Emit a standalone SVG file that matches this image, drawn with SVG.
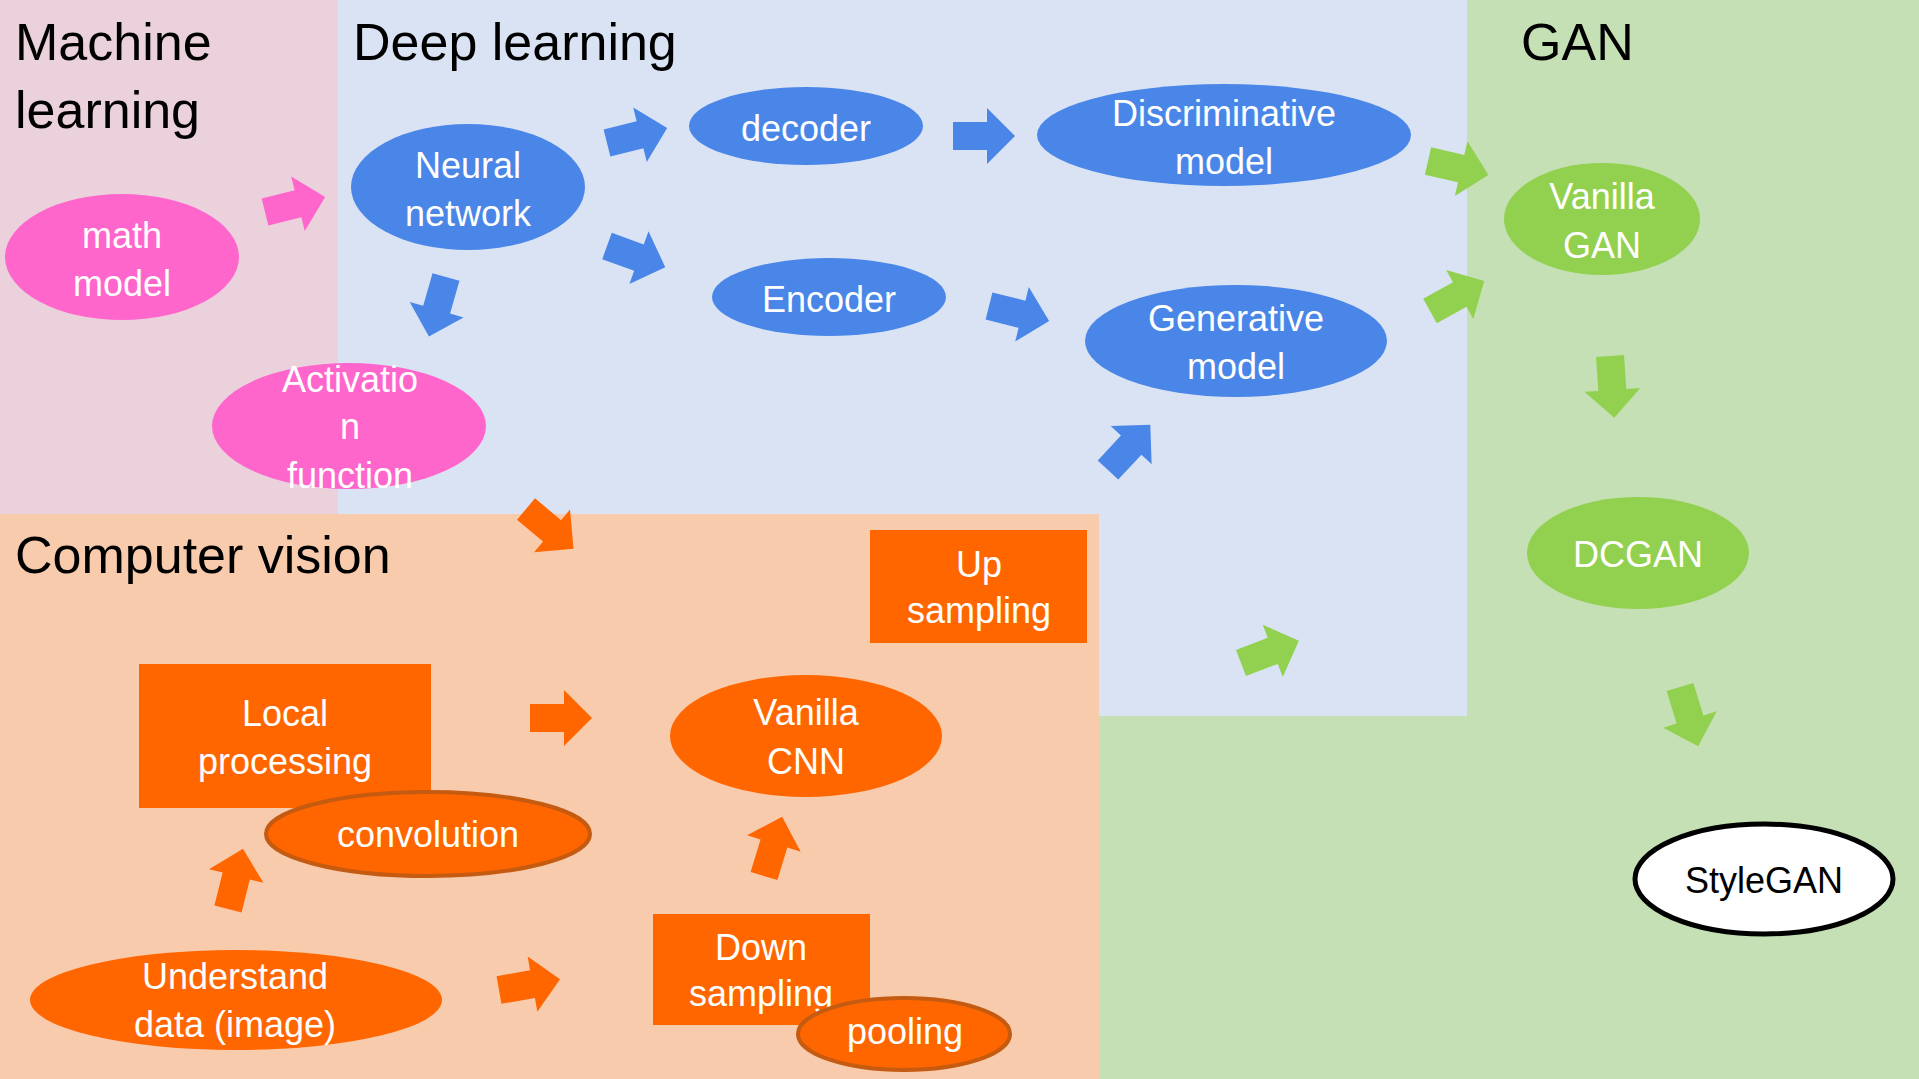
<svg xmlns="http://www.w3.org/2000/svg" xmlns:xlink="http://www.w3.org/1999/xlink" width="1919" height="1079" viewBox="0 0 1919 1079">
<style>
text{font-family:"Liberation Sans",Arial,sans-serif}
.title{font-size:52px;fill:#000}
.lbl{font-size:36px;fill:#fff;text-anchor:middle}
.dark{fill:#000}
.pink{fill:#FF66CC}
.blue{fill:#4A86E8}
.green{fill:#92D050}
.orange{fill:#FF6600}
.ostroke{stroke:#C55A11;stroke-width:4}
</style>
<defs>
<path id="arr" d="M0,-14 H34 V-28 L62,0 L34,28 V14 H0 Z"/>
</defs>
<g id="regions">
<rect id="bg-gan" x="0" y="0" width="1919" height="1079" fill="#C5E0B4"/>
<rect id="bg-deep" x="338" y="0" width="1129" height="716" fill="#DAE3F3"/>
<rect id="bg-ml" x="0" y="0" width="338" height="514" fill="#EAD1DC"/>
<rect id="bg-cv" x="0" y="514" width="1099" height="565" fill="#F8CBAD"/>
<text class="title" x="15" y="60">Machine</text>
<text class="title" x="15" y="128">learning</text>
<text class="title" x="353" y="60">Deep learning</text>
<text class="title" x="1521" y="60" font-size="50">GAN</text>
<text class="title" x="15" y="573">Computer vision</text>
</g>
<g id="connectors">
<use href="#arr" class="pink" transform="translate(265,212) rotate(-14)"/>
<use href="#arr" class="blue" transform="translate(607,143) rotate(-14)"/>
<use href="#arr" class="blue" transform="translate(607,246) rotate(20)"/>
<use href="#arr" class="blue" transform="translate(446,277) rotate(106)"/>
<use href="#arr" class="blue" transform="translate(953,136)"/>
<use href="#arr" class="blue" transform="translate(989,306) rotate(14)"/>
<use href="#arr" class="blue" transform="translate(1108,470) rotate(-47)"/>
<use href="#arr" class="green" transform="translate(1241,663) rotate(-21)"/>
<use href="#arr" class="green" transform="translate(1428,161) rotate(13)"/>
<use href="#arr" class="green" transform="translate(1430,311) rotate(-29)"/>
<use href="#arr" class="green" transform="translate(1610,356) rotate(86)"/>
<use href="#arr" class="green" transform="translate(1680,687) rotate(73)"/>
<use href="#arr" class="orange" transform="translate(526,509) rotate(40)"/>
<use href="#arr" class="orange" transform="translate(530,718)"/>
<use href="#arr" class="orange" transform="translate(228,909) rotate(-76)"/>
<use href="#arr" class="orange" transform="translate(499,990) rotate(-10)"/>
<use href="#arr" class="orange" transform="translate(764,876) rotate(-73)"/>
</g>
<g id="math-model">
<ellipse class="pink" cx="122" cy="257" rx="117" ry="63"/>
<text class="lbl" x="122" y="248">math</text>
<text class="lbl" x="122" y="296">model</text>
</g>
<g id="neural-network">
<ellipse class="blue" cx="468" cy="187" rx="117" ry="63"/>
<text class="lbl" x="468" y="178">Neural</text>
<text class="lbl" x="468" y="226">network</text>
</g>
<g id="activation-function">
<ellipse class="pink" cx="349" cy="426" rx="137" ry="63"/>
<text class="lbl" x="350" y="392">Activatio</text>
<text class="lbl" x="350" y="439">n</text>
<text class="lbl" x="350" y="488">function</text>
</g>
<g id="decoder">
<ellipse class="blue" cx="806" cy="126" rx="117" ry="39"/>
<text class="lbl" x="806" y="141">decoder</text>
</g>
<g id="encoder">
<ellipse class="blue" cx="829" cy="297" rx="117" ry="39"/>
<text class="lbl" x="829" y="312">Encoder</text>
</g>
<g id="discriminative-model">
<ellipse class="blue" cx="1224" cy="135" rx="187" ry="51"/>
<text class="lbl" x="1224" y="126">Discriminative</text>
<text class="lbl" x="1224" y="174">model</text>
</g>
<g id="generative-model">
<ellipse class="blue" cx="1236" cy="341" rx="151" ry="56"/>
<text class="lbl" x="1236" y="331">Generative</text>
<text class="lbl" x="1236" y="379">model</text>
</g>
<g id="vanilla-gan">
<ellipse class="green" cx="1602" cy="219" rx="98" ry="56"/>
<text class="lbl" x="1602" y="209">Vanilla</text>
<text class="lbl" x="1602" y="258">GAN</text>
</g>
<g id="dcgan">
<ellipse class="green" cx="1638" cy="553" rx="111" ry="56"/>
<text class="lbl" x="1638" y="567">DCGAN</text>
</g>
<g id="stylegan">
<ellipse cx="1764" cy="879" rx="129" ry="55" fill="#fff" stroke="#000" stroke-width="5"/>
<text class="lbl dark" x="1764" y="893">StyleGAN</text>
</g>
<g id="up-sampling">
<rect class="orange" x="870" y="530" width="217" height="113"/>
<text class="lbl" x="979" y="577">Up</text>
<text class="lbl" x="979" y="623">sampling</text>
</g>
<g id="local-processing">
<rect class="orange" x="139" y="664" width="292" height="144"/>
<text class="lbl" x="285" y="726">Local</text>
<text class="lbl" x="285" y="774">processing</text>
</g>
<g id="convolution">
<ellipse class="orange ostroke" cx="428" cy="834" rx="162" ry="42"/>
<text class="lbl" x="428" y="847">convolution</text>
</g>
<g id="vanilla-cnn">
<ellipse class="orange" cx="806" cy="736" rx="136" ry="61"/>
<text class="lbl" x="806" y="725">Vanilla</text>
<text class="lbl" x="806" y="774">CNN</text>
</g>
<g id="understand-data">
<ellipse class="orange" cx="236" cy="1000" rx="206" ry="50"/>
<text class="lbl" x="235" y="989">Understand</text>
<text class="lbl" x="235" y="1037">data (image)</text>
</g>
<g id="down-sampling">
<rect class="orange" x="653" y="914" width="217" height="111"/>
<text class="lbl" x="761" y="960">Down</text>
<text class="lbl" x="761" y="1006">sampling</text>
</g>
<g id="pooling">
<ellipse class="orange ostroke" cx="904" cy="1034" rx="106" ry="36"/>
<text class="lbl" x="905" y="1044">pooling</text>
</g>
</svg>
